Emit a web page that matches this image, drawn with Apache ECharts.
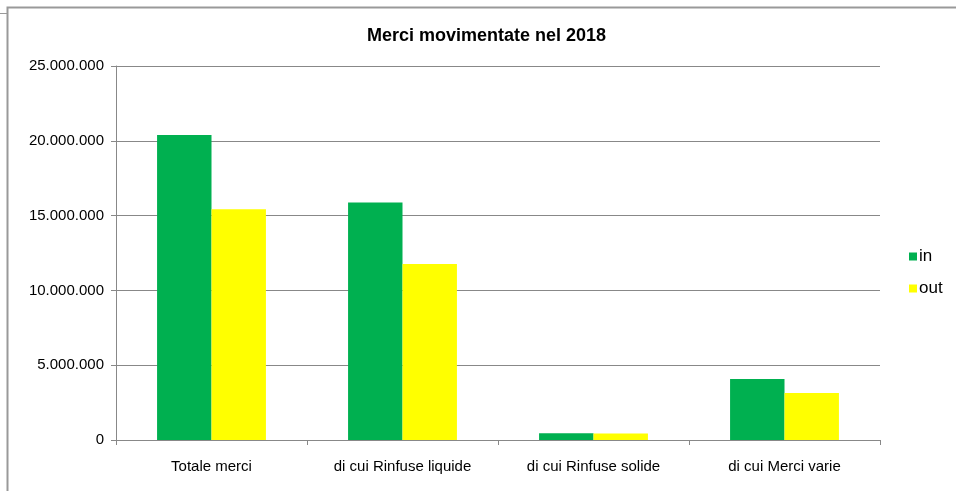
<!DOCTYPE html>
<html>
<head>
<meta charset="utf-8">
<script src="https://cdn.jsdelivr.net/npm/echarts@6/dist/echarts.min.js"></script>
<style>
  html, body { margin: 0; padding: 0; background: #fff; }
  #chart { width: 956px; height: 491px; }
</style>
</head>
<body>
<div id="chart"></div>
<script>
// dati
var categories = ['Totale merci', 'di cui Rinfuse liquide', 'di cui Rinfuse solide', 'di cui Merci varie'];
var inValues = [20380000, 15880000, 450000, 4080000];
var outValues = [15420000, 11760000, 440000, 3140000];
var yTicks = [0, 5000000, 10000000, 15000000, 20000000, 25000000];

function fmt(v) {
  return String(v).replace(/\B(?=(\d{3})+(?!\d))/g, '.');
}

var chart = echarts.init(document.getElementById('chart'));
var option = {
  backgroundColor: '#fff',
  animation: false,
  textStyle: { fontFamily: 'Liberation Sans, Arial, sans-serif' },
  title: {
    text: 'Merci movimentate nel 2018',
    left: 362,
    top: 22,
    textStyle: { fontSize: 18, fontWeight: 'bold', color: '#000' }
  },
  graphic: [
    {
      type: 'polyline',
      shape: { points: [[7.5, 491], [7.5, 7.5], [956, 7.5]] },
      style: { stroke: '#999', lineWidth: 2, fill: null }
    },
    {
      type: 'line',
      shape: { x1: 0, y1: 13.5, x2: 7, y2: 13.5 },
      style: { stroke: '#999', lineWidth: 1 }
    }
  ],
  legend: {
    orient: 'vertical',
    left: 904,
    top: 243,
    itemWidth: 8,
    itemHeight: 8,
    itemGap: 15,
    icon: 'rect',
    textStyle: { fontSize: 17, color: '#000', padding: [0, 0, 0, -3] },
    data: ['in', 'out']
  },
  grid: { left: 116, right: 76, top: 66, bottom: 51 },
  xAxis: {
    type: 'category',
    data: categories,
    axisLine: { lineStyle: { color: '#888' } },
    axisTick: { show: true, length: 5, lineStyle: { color: '#888' } },
    axisLabel: { color: '#000', fontSize: 15, margin: 19 }
  },
  yAxis: {
    type: 'value',
    min: 0,
    max: yTicks[yTicks.length - 1],
    interval: yTicks[1] - yTicks[0],
    axisLine: { show: true, lineStyle: { color: '#888' } },
    axisTick: { show: true, length: 5, lineStyle: { color: '#888' } },
    splitLine: { lineStyle: { color: '#888' } },
    axisLabel: { color: '#000', fontSize: 15, margin: 12, formatter: fmt }
  },
  series: [
    {
      name: 'in',
      type: 'bar',
      data: inValues,
      barGap: '0%',
      barCategoryGap: '43%',
      itemStyle: { color: '#00B050' }
    },
    {
      name: 'out',
      type: 'bar',
      data: outValues,
      itemStyle: { color: '#FFFF00' }
    }
  ]
};
chart.setOption(option);
</script>
</body>
</html>
